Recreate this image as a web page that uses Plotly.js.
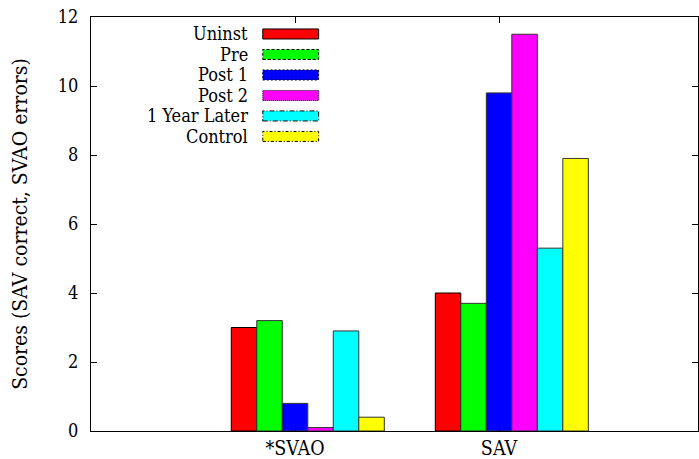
<!DOCTYPE html>
<html>
<head>
<meta charset="utf-8">
<script src="https://cdn.plot.ly/plotly-3.0.1.min.js"></script>
<style>html,body{margin:0;padding:0;background:#fff;}#chart{width:699px;height:459px;}</style>
</head>
<body>
<div id="chart"></div>
<script>
var categories = ["*SVAO", "SAV"];
var seriesNames = ["Uninst", "Pre", "Post 1", "Post 2", "1 Year Later", "Control"];
var uninst = [3.0, 4.0];
var pre = [3.2, 3.7];
var post1 = [0.8, 9.8];
var post2 = [0.1, 11.5];
var yearLater = [2.9, 5.3];
var control = [0.4, 7.9];
var yTicks = [0, 2, 4, 6, 8, 10, 12];

var seriesValues = [uninst, pre, post1, post2, yearLater, control];
var colors = ["#ff0000", "#00ff00", "#0000ff", "#ff00ff", "#00ffff", "#ffff00"];
var dashes = ["solid", "3px,2px", "2px,2px", "1px,1px", "5px,2px,1px,2px", "3px,2px,1px,2px"];
var barW = 0.125;
var FONT = "DejaVu Serif Condensed, DejaVu Serif";
var FS = 18;

var traces = seriesValues.map(function (vals, i) {
  return {
    type: "bar",
    name: seriesNames[i],
    x: categories,
    y: vals,
    width: barW,
    offset: (i - 2.5) * barW,
    marker: { color: colors[i], line: { color: i === 0 ? "#000" : "#333", width: 1 } },
    showlegend: false
  };
});

var shapes = [];
var annotations = [];
var rowTop = 0.959, rowStep = 0.0495, swH = 0.0242;
seriesNames.forEach(function (n, i) {
  var yc = rowTop - i * rowStep;
  shapes.push({
    type: "rect", xref: "paper", yref: "paper",
    x0: 0.283, x1: 0.375, y0: yc - swH / 2, y1: yc + swH / 2,
    fillcolor: colors[i], line: { color: "#000", width: 1, dash: dashes[i] }
  });
  annotations.push({
    xref: "paper", yref: "paper", x: 0.262, y: yc, xanchor: "right", yanchor: "middle",
    text: n, showarrow: false, font: { family: FONT, size: FS, color: "#000" }
  });
});

var layout = {
  width: 699, height: 459,
  margin: { l: 91, r: 1, t: 17, b: 28, pad: 0 },
  paper_bgcolor: "#fff", plot_bgcolor: "#fff",
  font: { family: FONT, size: FS, color: "#000" },
  barmode: "group",
  showlegend: false,
  xaxis: {
    type: "category", range: [-1, 1.975],
    showline: true, linecolor: "#000", linewidth: 1, mirror: "ticks",
    ticks: "inside", ticklen: 6, tickcolor: "#000", showgrid: false, zeroline: false,
    ticklabelstandoff: 0,
    tickfont: { family: FONT, size: 19.5, color: "#000" }, fixedrange: true
  },
  yaxis: {
    range: [0, 12], tickvals: yTicks, ticktext: yTicks.map(String),
    showline: true, linecolor: "#000", linewidth: 1, mirror: "ticks",
    ticks: "inside", ticklen: 6, tickcolor: "#000", showgrid: false, zeroline: false,
    ticklabelstandoff: 8,
    tickfont: { family: FONT, size: FS, color: "#000" },
    title: { text: "Scores (SAV correct, SVAO errors)", font: { family: FONT, size: 21, color: "#000" }, standoff: 24 }
  },
  shapes: shapes,
  annotations: annotations
};

Plotly.newPlot("chart", traces, layout, { staticPlot: true, displayModeBar: false });
</script>
</body>
</html>
